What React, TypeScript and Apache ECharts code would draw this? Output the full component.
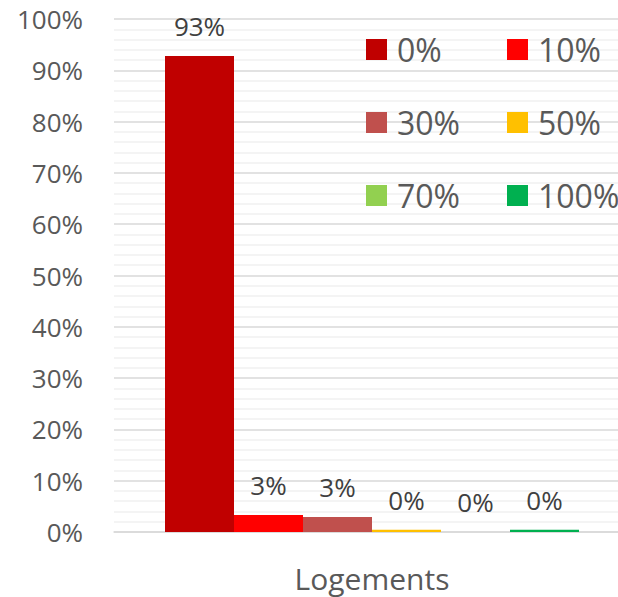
import React, { useEffect, useRef } from "react";
import * as echarts from "echarts";

const categories = ["Logements"];
const seriesNames = ["0%", "10%", "30%", "50%", "70%", "100%"];
const seriesValues = [92.8, 3.3, 2.9, 0.45, 0, 0.45];
const seriesColors = ["#C00000", "#FF0000", "#C0504D", "#FFC000", "#92D050", "#00B050"];
const legendCol1 = ["0%", "30%", "70%"];
const legendCol2 = ["10%", "50%", "100%"];

const FONT = "'Open Sans', sans-serif";

export default function App() {
  const ref = useRef<HTMLDivElement>(null);
  useEffect(() => {
    if (!ref.current) return;
    const chart = echarts.init(ref.current, undefined, { renderer: "svg" });
    const legendBase = {
      orient: "vertical" as const,
      top: 33,
      padding: 0,
      itemWidth: 21,
      itemHeight: 21,
      itemGap: 40,
      icon: "rect",
      textStyle: { fontSize: 32, color: "#595959", fontFamily: FONT, lineHeight: 33, padding: [0, 0, 0, 5] },
    };
    chart.setOption({
      animation: false,
      textStyle: { fontFamily: FONT },
      grid: { left: 114, right: 0, top: 19, bottom: 65 },
      legend: [
        { ...legendBase, left: 366, data: legendCol1 },
        { ...legendBase, left: 507, data: legendCol2 },
      ],
      xAxis: {
        type: "category",
        data: categories,
        axisTick: { show: false },
        axisLine: { lineStyle: { color: "#D9D9D9", width: 1.5 } },
        axisLabel: { fontSize: 30, color: "#595959", margin: 31, fontFamily: FONT, lineHeight: 30 },
      },
      yAxis: {
        type: "value",
        min: 0,
        max: 100,
        interval: 10,
        axisLabel: { formatter: "{value}%", fontSize: 26, color: "#595959", margin: 31, fontFamily: FONT },
        axisLine: { show: false },
        axisTick: { show: false },
        splitLine: { lineStyle: { color: "#D9D9D9", width: 1.5 } },
        minorTick: { show: false, splitNumber: 5 },
        minorSplitLine: { show: true, lineStyle: { color: "#F0F0F0", width: 1.5 } },
      },
      series: seriesNames.map((name, i) => ({
        name,
        type: "bar",
        data: [seriesValues[i]],
        barWidth: 69,
        barGap: "0%",
        itemStyle: { color: seriesColors[i] },
        label: {
          show: true,
          position: "top",
          distance: 17,
          fontSize: 26,
          color: "#404040",
          fontFamily: FONT,
          formatter: (p: any) => Math.round(p.value) + "%",
        },
      })),
    });
    return () => chart.dispose();
  }, []);
  return (
    <div style={{ width: 618, height: 597, position: "absolute", left: 0, top: 0, overflow: "hidden" }}>
      <div ref={ref} style={{ width: 630, height: 597 }} />
    </div>
  );
}
